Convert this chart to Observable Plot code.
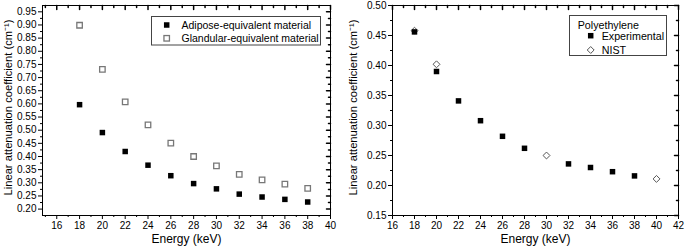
<!DOCTYPE html>
<html><head><meta charset="utf-8">
<script src="https://cdn.jsdelivr.net/npm/d3@7"></script>
<script src="https://cdn.jsdelivr.net/npm/@observablehq/plot@0.6"></script>
<style>
body{margin:0;background:#fff;}
#wrap{position:relative;width:685px;height:249px;font-family:"Liberation Sans",Arial,sans-serif;}
#wrap svg{position:absolute;top:0;}
</style></head><body><div id="wrap"></div>
<script>
// ---- Left panel data ----
const energyL = [18, 20, 22, 24, 26, 28, 30, 32, 34, 36, 38];
const adipose = [0.597, 0.491, 0.419, 0.367, 0.327, 0.297, 0.277, 0.257, 0.246, 0.237, 0.227];
const glandular = [0.899, 0.731, 0.608, 0.520, 0.451, 0.400, 0.364, 0.332, 0.311, 0.295, 0.279];
const seriesL = ["Adipose-equivalent material", "Glandular-equivalent material"];

// ---- Right panel data ----
const energyExp = [18, 20, 22, 24, 26, 28, 32, 34, 36, 38];
const experimental = [0.456, 0.390, 0.341, 0.308, 0.282, 0.262, 0.236, 0.230, 0.223, 0.216];
const energyNist = [18, 20, 30, 40];
const nist = [0.458, 0.402, 0.250, 0.211];
const legendTitleR = "Polyethylene";
const seriesR = ["Experimental", "NIST"];

// ---- Axis ticks ----
const xTicksL = [16, 18, 20, 22, 24, 26, 28, 30, 32, 34, 36, 38, 40];
const xMinorL = [15, 17, 19, 21, 23, 25, 27, 29, 31, 33, 35, 37, 39];
const yTicksL = [0.20, 0.25, 0.30, 0.35, 0.40, 0.45, 0.50, 0.55, 0.60, 0.65, 0.70, 0.75, 0.80, 0.85, 0.90, 0.95];
const yMinorL = [0.225, 0.275, 0.325, 0.375, 0.425, 0.475, 0.525, 0.575, 0.625, 0.675, 0.725, 0.775, 0.825, 0.875, 0.925];
const xTicksR = [16, 18, 20, 22, 24, 26, 28, 30, 32, 34, 36, 38, 40, 42];
const xMinorR = [17, 19, 21, 23, 25, 27, 29, 31, 33, 35, 37, 39, 41];
const yTicksR = [0.15, 0.20, 0.25, 0.30, 0.35, 0.40, 0.45, 0.50];
const yMinorR = [0.175, 0.225, 0.275, 0.325, 0.375, 0.425, 0.475];
const xTitle = "Energy (keV)";
const yTitle = "Linear attenuation coefficient (cm\u207B\u00B9)";

const FONT = '"Liberation Sans", Arial, sans-serif';
const tickShape = {draw(ctx, l) { ctx.moveTo(0, 0); ctx.lineTo(0, -l); }};

function panel({left, marginLeft, marginRight, xDomain, yDomain, xTicks, xMinor, yTicks, yMinor, marks, yTitleDx}) {
  const svg = Plot.plot({
    width: 340, height: 249,
    marginLeft, marginRight, marginTop: 5, marginBottom: 34,
    style: {fontFamily: FONT, fontSize: "10px", color: "#000", background: "transparent"},
    x: {domain: xDomain},
    y: {domain: yDomain},
    marks: [
      ...marks,
      Plot.frame({stroke: "#000", strokeWidth: 1}),
      Plot.axisX(xTicks, {anchor: "bottom", tickSize: 4, tickPadding: 2, tickFormat: d => String(d), label: null}),
      Plot.axisX(xMinor, {anchor: "bottom", tickSize: 2, tickFormat: () => "", label: null}),
      Plot.axisY(yTicks, {anchor: "left", tickSize: 4, tickPadding: 2, tickFormat: d3.format(".2f"), label: null}),
      Plot.axisY(yMinor, {anchor: "left", tickSize: 2, tickFormat: () => "", label: null}),
      Plot.vector(xTicks, {x: d => d, frameAnchor: "top", length: 4, rotate: 180, anchor: "start", shape: tickShape, stroke: "#000"}),
      Plot.vector(xMinor, {x: d => d, frameAnchor: "top", length: 2, rotate: 180, anchor: "start", shape: tickShape, stroke: "#000"}),
      Plot.vector(yTicks, {y: d => d, frameAnchor: "right", length: 4, rotate: -90, anchor: "start", shape: tickShape, stroke: "#000"}),
      Plot.vector(yMinor, {y: d => d, frameAnchor: "right", length: 2, rotate: -90, anchor: "start", shape: tickShape, stroke: "#000"}),
      Plot.text([xTitle], {text: d => d, frameAnchor: "bottom", dy: 27, fontSize: 12, textAnchor: "middle"}),
      Plot.text([yTitle], {text: d => d, frameAnchor: "left", dx: yTitleDx, dy: -3, rotate: -90, fontSize: 11.2, textAnchor: "middle"})
    ]
  });
  svg.style.left = left + "px";
  return svg;
}

const wrap = document.getElementById("wrap");

const tableAd = energyL.map((e, i) => ({e, v: adipose[i]}));
const tableGl = energyL.map((e, i) => ({e, v: glandular[i]}));
wrap.appendChild(panel({
  left: 0, marginLeft: 42, marginRight: 10,
  xDomain: [14.75, 40], yDomain: [0.1757, 0.974],
  xTicks: xTicksL, xMinor: xMinorL, yTicks: yTicksL, yMinor: yMinorL, yTitleDx: -34,
  marks: [
    Plot.dot(tableGl, {x: "e", y: "v", symbol: "square", r: 3.1, fill: "#fff", stroke: "#777", strokeWidth: 1.3}),
    Plot.dot(tableAd, {x: "e", y: "v", symbol: "square", r: 3.1, fill: "#000", stroke: "none"})
  ]
}));

const tableExp = energyExp.map((e, i) => ({e, v: experimental[i]}));
const tableNist = energyNist.map((e, i) => ({e, v: nist[i]}));
wrap.appendChild(panel({
  left: 345, marginLeft: 47, marginRight: 7,
  xDomain: [16, 42], yDomain: [0.15, 0.50],
  xTicks: xTicksR, xMinor: xMinorR, yTicks: yTicksR, yMinor: yMinorR, yTitleDx: -39.5,
  marks: [
    Plot.dot(tableNist, {x: "e", y: "v", symbol: "diamond2", r: 3.1, fill: "#fff", stroke: "#555", strokeWidth: 1}),
    Plot.dot(tableExp, {x: "e", y: "v", symbol: "square", r: 3.1, fill: "#000", stroke: "none"})
  ]
}));

// ---- Legends (overlay) ----
const ov = d3.select(wrap).append("svg").attr("width", 685).attr("height", 249)
  .style("left", "0px").style("pointer-events", "none")
  .attr("font-family", FONT).attr("font-size", 10.5);

// left legend
ov.append("rect").attr("x", 151.5).attr("y", 16.5).attr("width", 169).attr("height", 28.5)
  .attr("fill", "none").attr("stroke", "#444").attr("stroke-width", 1);
const rowsL = [{y: 25, fill: "#000", stroke: "none"}, {y: 38.3, fill: "#fff", stroke: "#777"}];
rowsL.forEach((r, i) => {
  ov.append("rect").attr("x", 166.7 - 2.75).attr("y", r.y - 2.75).attr("width", 5.5).attr("height", 5.5)
    .attr("fill", r.fill).attr("stroke", r.stroke).attr("stroke-width", 1.3);
  ov.append("text").attr("x", 181.5).attr("y", r.y).attr("dominant-baseline", "central").text(seriesL[i]);
});

// right legend
ov.append("rect").attr("x", 569.5).attr("y", 15.5).attr("width", 97).attr("height", 40)
  .attr("fill", "none").attr("stroke", "#444").attr("stroke-width", 1);
ov.append("text").attr("x", 577.7).attr("y", 25).attr("dominant-baseline", "central").attr("font-size", 10.7).text(legendTitleR);
ov.append("rect").attr("x", 590.7 - 2.75).attr("y", 35.7 - 2.75).attr("width", 5.5).attr("height", 5.5).attr("fill", "#000");
ov.append("path").attr("d", d3.symbol(d3.symbolDiamond2, Math.PI * 3.1 * 3.1)()).attr("transform", "translate(590.7,50)")
  .attr("fill", "#fff").attr("stroke", "#555");
ov.append("text").attr("x", 601.7).attr("y", 35.7).attr("dominant-baseline", "central").attr("font-size", 10.7).text(seriesR[0]);
ov.append("text").attr("x", 601.7).attr("y", 50).attr("dominant-baseline", "central").attr("font-size", 10.7).text(seriesR[1]);
</script></body></html>
